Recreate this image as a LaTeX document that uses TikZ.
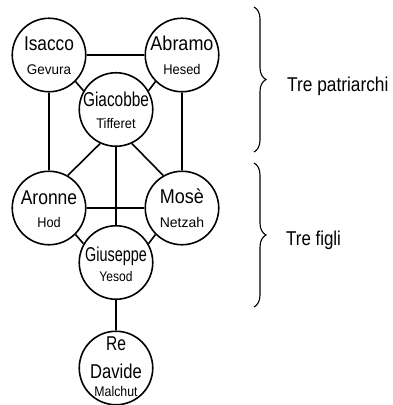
\documentclass[tikz,border=0pt]{standalone}
\usepackage{fontspec}
\usepackage{graphicx}
\setmainfont{Liberation Sans}
\usetikzlibrary{decorations.pathreplacing}

\tikzset{
  sefira/.style={circle, draw, line width=1.6pt, minimum size=73.5pt, inner sep=0pt, fill=white},
  mainlbl/.style={anchor=base, inner sep=0pt, font=\fontsize{20}{22}\selectfont},
  sublbl/.style={anchor=base, inner sep=0pt, font=\fontsize{14}{16}\selectfont},
  path/.style={line width=1.6pt},
  groupbrace/.style={line width=1.1pt, decorate, decoration={brace, amplitude=12pt}},
  grouplbl/.style={anchor=base west, inner sep=0pt, font=\fontsize{20}{22}\selectfont}
}

% #1 name, #2 x, #3 y, #4 name text, #5 its width factor, #6 sefira text, #7 its width factor, #8 name baseline shift
\newcommand\sefiranode[8]{%
  \node[sefira] (#1) at (#2,#3) {};
  \node[mainlbl] (#1-nome) at ([yshift=#8pt]#1.center) {\scalebox{#5}[1]{#4}};
  \node[sublbl] (#1-sefira) at ([yshift=-19pt]#1.center) {\scalebox{#7}[1]{#6}};
}

\begin{document}
\begin{tikzpicture}[x=1pt, y=-1pt]
  \fill[white] (0,0) rectangle (392,405);
  \useasboundingbox (0,0) rectangle (392,405);

  % the seven sefirot
  \sefiranode{isacco}{49}{55}{Isacco}{0.865}{Gevura}{0.96}{5}
  \sefiranode{abramo}{182}{55}{Abramo}{0.90}{Hesed}{0.92}{5}
  \sefiranode{giacobbe}{116}{109.5}{Giacobbe}{0.77}{Tifferet}{0.92}{3}
  \sefiranode{aronne}{49}{208}{Aronne}{0.875}{Hod}{0.91}{4}
  \sefiranode{mose}{182}{208}{Mosè}{0.90}{Netzah}{1.0}{5}
  \sefiranode{giuseppe}{116}{262.5}{Giuseppe}{0.72}{Yesod}{0.86}{1.5}

  \node[sefira] (davide) at (116,368) {};
  \node[mainlbl] (davide-re) at ([yshift=18pt]davide.center) {\scalebox{0.78}[1]{Re}};
  \node[mainlbl] (davide-nome) at ([yshift=-10pt]davide.center) {\scalebox{0.83}[1]{Davide}};
  \node[sublbl] (davide-sefira) at ([yshift=-28pt]davide.center) {\scalebox{0.88}[1]{Malchut}};

  % paths between the sefirot
  \draw[path] (isacco) -- (abramo);
  \draw[path] (isacco) -- (aronne);
  \draw[path] (abramo) -- (mose);
  \draw[path] (aronne) -- (mose);
  \draw[path] (giacobbe) -- (giuseppe);
  \draw[path] (giuseppe) -- (davide);
  \draw[path] (isacco.-45) -- (giacobbe.150);
  \draw[path] (abramo.-135) -- (giacobbe.30);
  \draw[path] (giacobbe.-115) -- (aronne.60);
  \draw[path] (giacobbe.-65) -- (mose.120);
  \draw[path] (aronne.-45) -- (giuseppe.150);
  \draw[path] (mose.-135) -- (giuseppe.30);

  % groupings
  \coordinate (b1top) at (254,7);
  \coordinate (b1bot) at (254,152);
  \coordinate (b2top) at (254,163);
  \coordinate (b2bot) at (254,307);
  \draw[groupbrace] (b1top) -- (b1bot);
  \draw[groupbrace] (b2top) -- (b2bot);
  \node[grouplbl] (patriarchi) at (287,91) {\scalebox{0.865}[1]{Tre patriarchi}};
  \node[grouplbl] (figli) at (286,245) {\scalebox{0.845}[1]{Tre figli}};
\end{tikzpicture}
\end{document}
